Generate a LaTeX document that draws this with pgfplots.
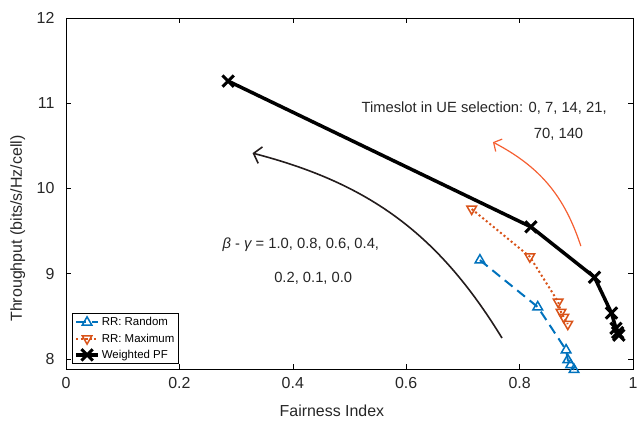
\documentclass[border=0pt]{standalone}
\usepackage{fontspec}
\setmainfont{Liberation Sans}
\usepackage{pgfplots}
\pgfplotsset{compat=1.18}
\usetikzlibrary{arrows.meta}
\definecolor{mblue}{rgb}{0,0.447,0.741}
\definecolor{morange}{rgb}{0.85,0.325,0.098}
\definecolor{arrorange}{RGB}{245,95,50}
\definecolor{arrdark}{RGB}{35,28,28}
\definecolor{txt}{RGB}{38,38,38}
\begin{document}
\begin{tikzpicture}
\begin{axis}[
  scale only axis,
  width=567bp, height=351bp,
  xmin=0, xmax=1, ymin=7.883, ymax=12,
  clip=false,
  axis line style={black, line width=0.8bp},
  tick align=inside,
  major tick length=5bp,
  tick style={black, line width=0.6bp},
  xtick={0,0.2,0.4,0.6,0.8,1},
  xticklabels={0,0.2,0.4,0.6,0.8,1},
  ytick={8,9,10,11,12},
  /pgf/number format/assume math mode=true,
  tick label style={font=\fontsize{16}{19}\selectfont, text=txt},
  xticklabel style={yshift=-5bp},
  yticklabel style={xshift=-8bp},
  label style={font=\fontsize{16}{19}\selectfont, text=txt},
  xlabel={Fairness Index},
  xlabel style={at={(axis description cs:0.469,0)}, anchor=base, yshift=-47bp},
  ylabel={Throughput (bits/s/Hz/cell)},
  ylabel style={at={(axis description cs:-0.0776,0.40)}, rotate=0, anchor=base},
  legend cell align=left,
  legend image code/.code={\draw[mark repeat=2,mark phase=2,#1] plot coordinates {(0bp,0bp) (11bp,0bp) (22bp,0bp)};},
  legend style={at={(axis description cs:0.0106,0.014)}, anchor=south west,
    font=\fontsize{11.5}{13}\selectfont, draw=black, line width=0.6bp,
    inner xsep=2bp, inner ysep=2bp, row sep=2.5bp,
    /tikz/every even column/.append style={column sep=1bp}},
]
\addplot[mblue, line width=2bp, dash pattern=on 10bp off 6bp,
  mark=triangle, mark size=5.5bp, mark options={solid, line width=1.5bp}]
  coordinates {(0.730,9.16) (0.832,8.61) (0.882,8.105) (0.885,7.99) (0.890,7.93) (0.896,7.875)};
\addlegendentry{RR: Random}
\addplot[morange, line width=2bp, dash pattern=on 2bp off 2.6bp,
  mark=triangle, mark size=5.5bp, mark options={solid, line width=1.5bp, rotate=180}]
  coordinates {(0.7155,9.76) (0.818,9.20) (0.868,8.67) (0.873,8.55) (0.878,8.49) (0.885,8.41)};
\addlegendentry{RR: Maximum}
\addplot[black, line width=3.5bp,
  mark=x, mark size=8bp, mark options={solid, line width=3bp}]
  coordinates {(0.286,11.26) (0.820,9.55) (0.932,8.96) (0.962,8.54) (0.970,8.36) (0.973,8.31) (0.975,8.28)};
\addlegendentry{Weighted PF}
\draw[arrdark, line width=1.6bp, -{Straight Barb[length=7bp,width=17bp]}]
  (axis cs:0.769,8.246) to[bend right=22] (axis cs:0.329,10.415);
\draw[arrorange, line width=1.2bp, -{Straight Barb[length=6bp,width=14bp]}]
  (axis cs:0.908,9.325) to[bend right=22] (axis cs:0.753,10.544);
\node[anchor=base west, inner sep=0pt, text=txt, font=\fontsize{14.8}{17}\selectfont]
  at (axis cs:0.521,10.896) {Timeslot in UE selection: 0, 7, 14, 21,};
\node[anchor=base west, inner sep=0pt, text=txt, font=\fontsize{14.8}{17}\selectfont]
  at (axis cs:0.825,10.591) {70, 140};
\node[anchor=base west, inner sep=0pt, text=txt, font=\fontsize{14.8}{17}\selectfont]
  at (axis cs:0.276,9.301) {{\itshape β} - {\itshape γ} = 1.0, 0.8, 0.6, 0.4,};
\node[anchor=base west, inner sep=0pt, text=txt, font=\fontsize{14.8}{17}\selectfont]
  at (axis cs:0.367,8.903) {0.2, 0.1, 0.0};
\end{axis}
\pgfresetboundingbox
\path[use as bounding box] (-66bp,-56bp) rectangle (572bp,369bp);
\end{tikzpicture}
\end{document}
